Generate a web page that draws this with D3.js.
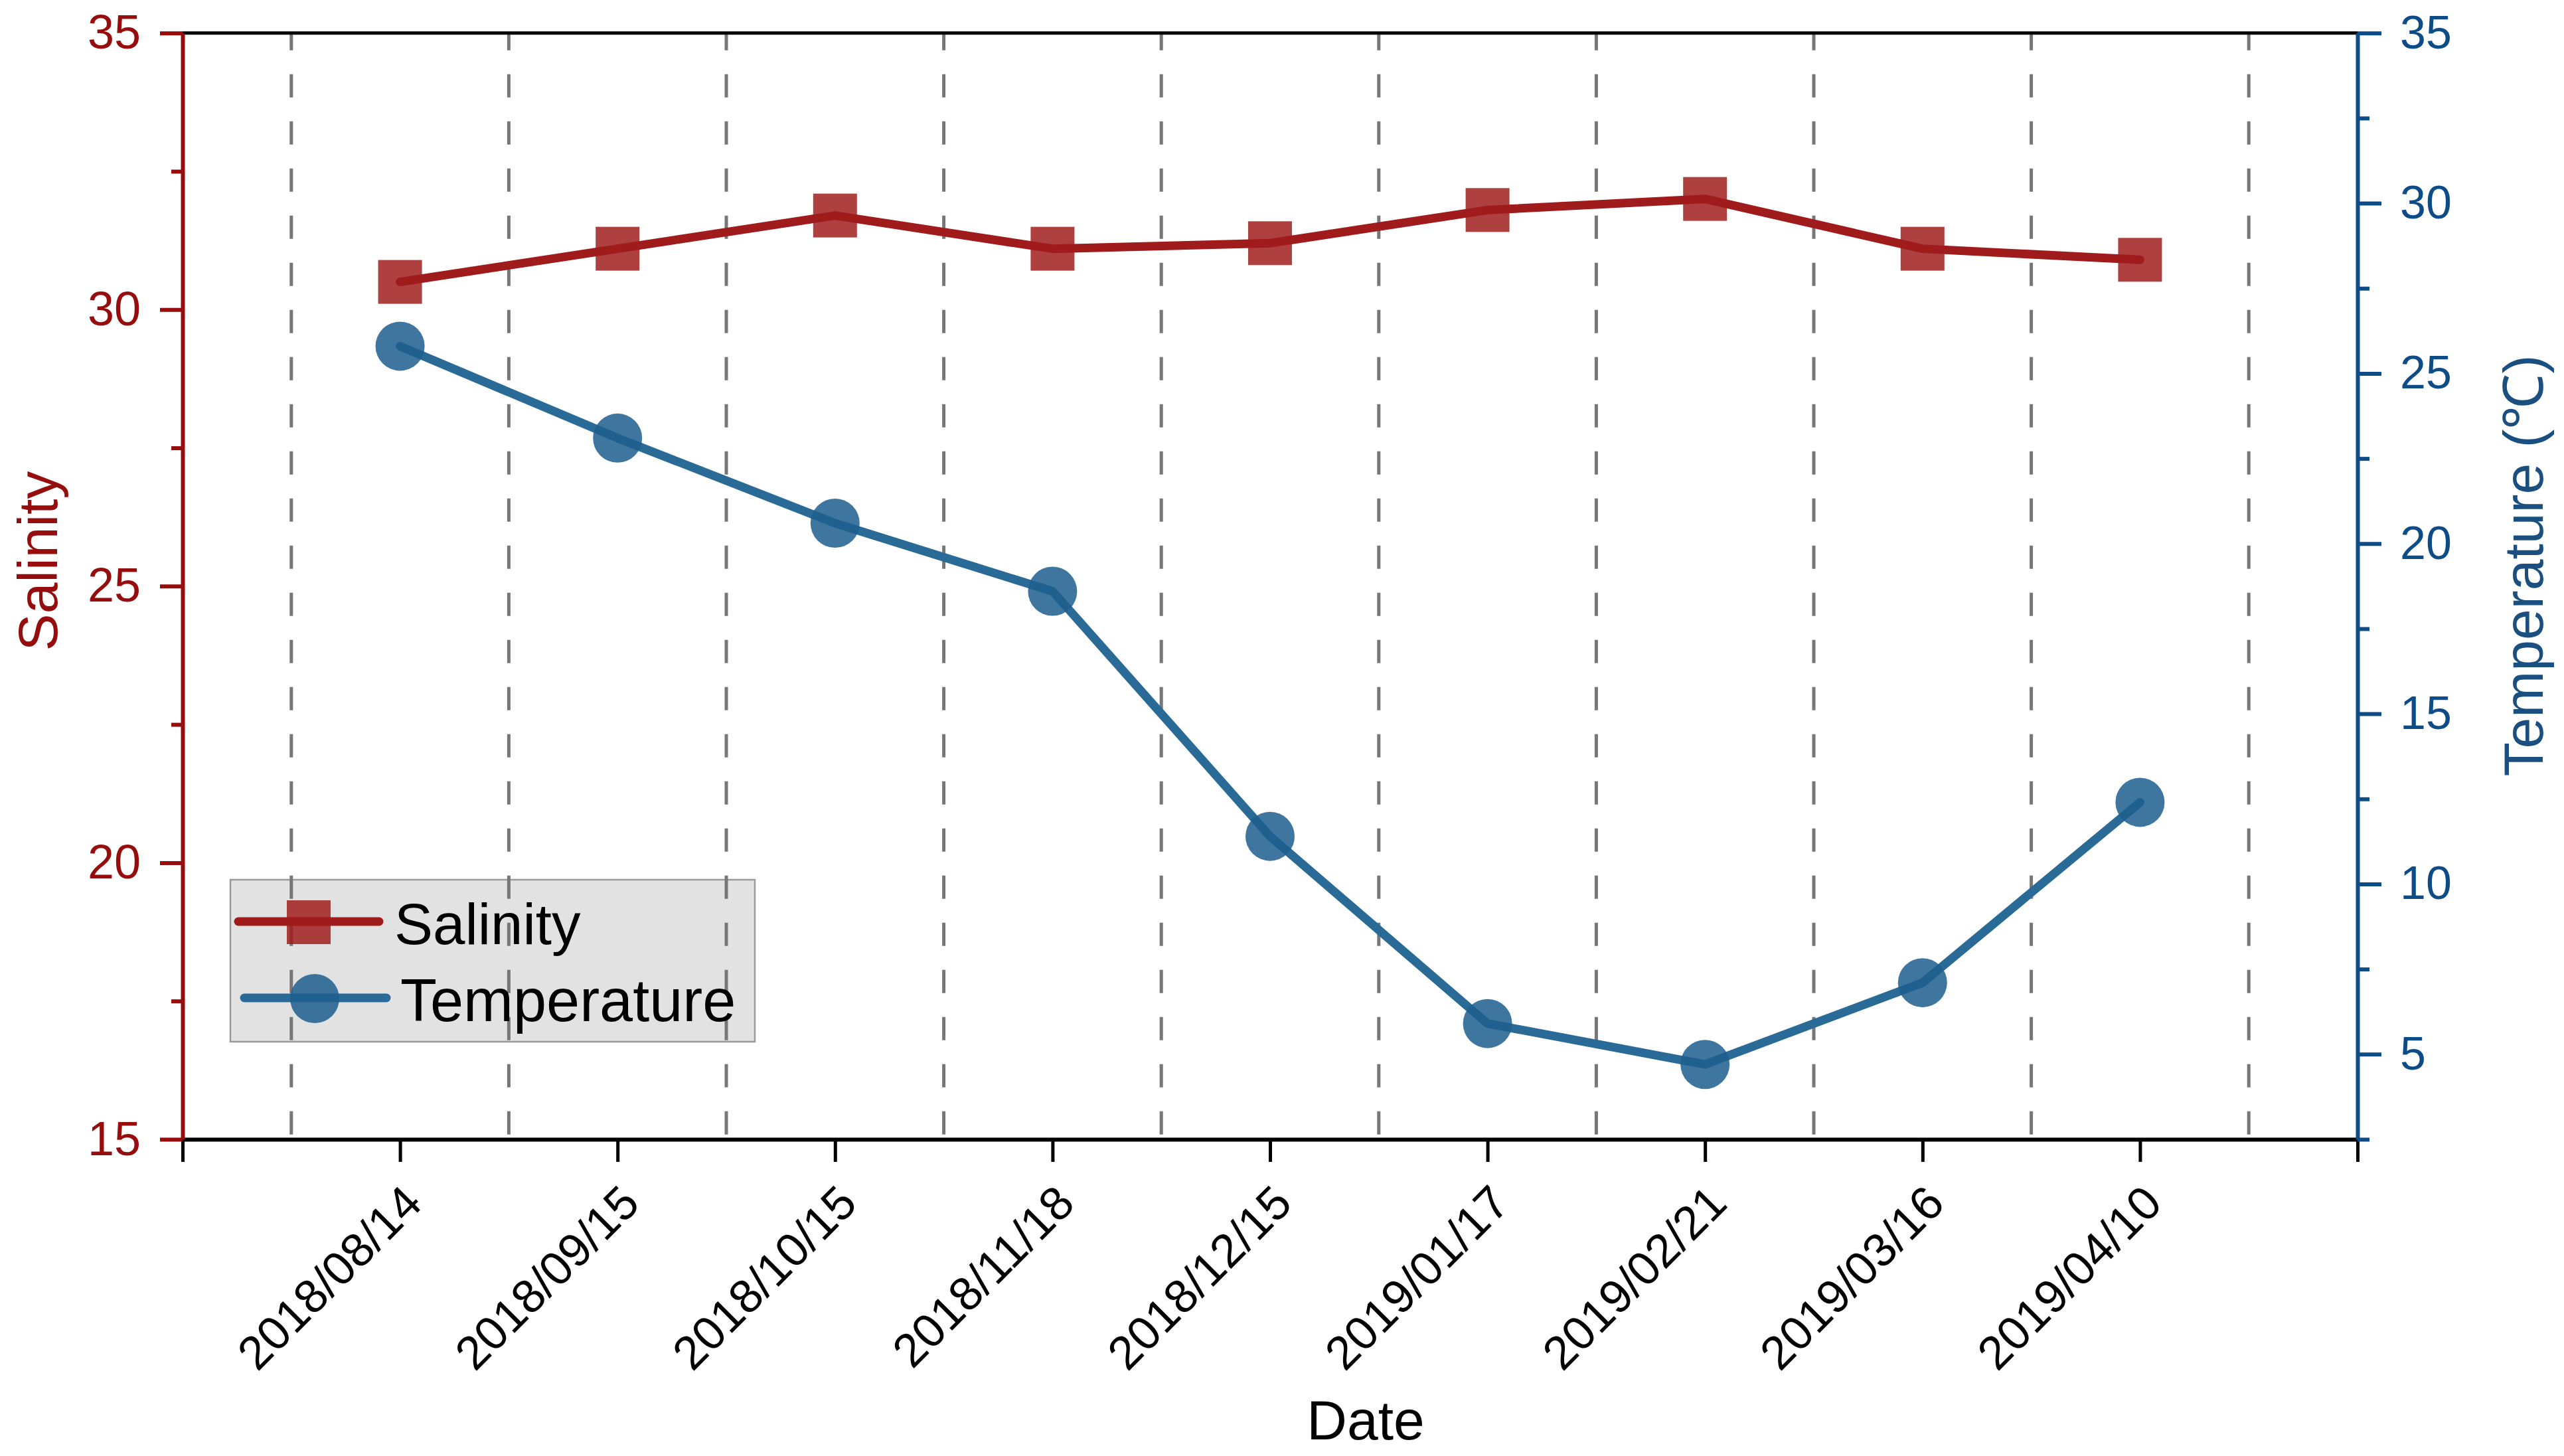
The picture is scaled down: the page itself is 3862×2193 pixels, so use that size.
<!DOCTYPE html>
<html>
<head>
<meta charset="utf-8">
<script src="https://cdn.jsdelivr.net/npm/d3@7"></script>
<style>
  html, body { margin: 0; padding: 0; background: #ffffff; }
  svg { display: block; }
</style>
</head>
<body>
<script>
// ---- data ----
const dates = ["2018/08/14","2018/09/15","2018/10/15","2018/11/18","2018/12/15","2019/01/17","2019/02/21","2019/03/16","2019/04/10"];
const salinity = [30.5, 31.1, 31.7, 31.1, 31.2, 31.8, 32.0, 31.1, 30.9];
const temperature = [25.8, 23.1, 20.6, 18.6, 11.4, 5.9, 4.7, 7.1, 12.4];
const salinityTicks = [15, 20, 25, 30, 35];
const salinityMinorTicks = [17.5, 22.5, 27.5, 32.5];
const temperatureTicks = [5, 10, 15, 20, 25, 30, 35];
const temperatureMinorTicks = [2.5, 7.5, 12.5, 17.5, 22.5, 27.5, 32.5];
const seriesNames = ["Salinity", "Temperature"];

// ---- layout ----
const W = 3862, H = 2193;
const L = 275, R = 3551, T = 49.7, B = 1716;
const FONT = "'Liberation Sans', Arial, Helvetica, sans-serif";
const RED_AX = "#950d0d", BLUE_AX = "#0d4c86";
const SAL_LINE = "#a01c1c", TEMP_LINE = "#2a6a96";
const SAL_MARK = "#a01c1c", TEMP_MARK = "#1d5e8e";

const svg = d3.select("body").append("svg")
  .attr("width", W).attr("height", H)
  .style("background", "#fff");

const x = d3.scaleLinear().domain([0, dates.length + 1]).range([L, R]);
const yS = d3.scaleLinear().domain([15, 35]).range([B, T]);
const yT = d3.scaleLinear().domain([2.5, 35]).range([B, T]);

// legend box (drawn under grid lines)
const legend = { x: 347, y: 1325, w: 790, h: 244 };
svg.append("rect")
  .attr("x", legend.x).attr("y", legend.y)
  .attr("width", legend.w).attr("height", legend.h)
  .attr("fill", "#e2e2e2").attr("stroke", "#9a9a9a").attr("stroke-width", 2.5);

// dashed vertical grid lines between categories
const gridPos = d3.range(0, dates.length + 1).map(i => i + 0.5);
svg.append("g").selectAll("line").data(gridPos).join("line")
  .attr("x1", d => x(d)).attr("x2", d => x(d))
  .attr("y1", T).attr("y2", B)
  .attr("stroke", "#777777").attr("stroke-width", 5)
  .attr("stroke-dasharray", "35 36").attr("stroke-dashoffset", 9);

// top frame line
svg.append("line")
  .attr("x1", x(0)).attr("x2", x(dates.length + 1))
  .attr("y1", T).attr("y2", T)
  .attr("stroke", "#000").attr("stroke-width", 5);

// bottom axis
const xAxis = d3.axisBottom(x)
  .tickValues(d3.range(0, dates.length + 2))
  .tickSize(34).tickSizeOuter(0)
  .tickFormat(i => (i >= 1 && i <= dates.length) ? dates[i - 1] : "");
const gx = svg.append("g").attr("transform", `translate(0,${B})`).call(xAxis);
gx.select(".domain").attr("stroke", "#000").attr("stroke-width", 6);
gx.selectAll(".tick line").attr("stroke", "#000").attr("stroke-width", 5);
gx.selectAll(".tick text")
  .attr("x", 0).attr("y", 0).attr("dy", 0)
  .attr("text-anchor", "end")
  .attr("transform", "translate(36,100) rotate(-45)")
  .attr("fill", "#000")
  .style("font-family", FONT).style("font-size", "71px");

// left axis (salinity)
const gl = svg.append("g").attr("transform", `translate(${L},0)`)
  .call(d3.axisLeft(yS).tickValues(salinityTicks).tickSize(34).tickSizeOuter(0).tickPadding(29).tickFormat(d3.format("d")));
gl.select(".domain").attr("stroke", RED_AX).attr("stroke-width", 6);
gl.selectAll(".tick line").attr("stroke", RED_AX).attr("stroke-width", 6);
gl.selectAll(".tick text").attr("fill", RED_AX)
  .style("font-family", "'Liberation Sans Narrow', 'Arial Narrow', " + FONT)
  .style("font-size", "72px");
const glm = svg.append("g").attr("transform", `translate(${L},0)`)
  .call(d3.axisLeft(yS).tickValues(salinityMinorTicks).tickSize(17).tickSizeOuter(0).tickFormat(""));
glm.select(".domain").remove();
glm.selectAll(".tick line").attr("stroke", RED_AX).attr("stroke-width", 6);

// right axis (temperature)
const gr = svg.append("g").attr("transform", `translate(${R},0)`)
  .call(d3.axisRight(yT).tickValues(temperatureTicks).tickSize(36).tickSizeOuter(0).tickPadding(28).tickFormat(d3.format("d")));
gr.select(".domain").attr("stroke", BLUE_AX).attr("stroke-width", 6);
gr.selectAll(".tick line").attr("stroke", BLUE_AX).attr("stroke-width", 6);
gr.selectAll(".tick text").attr("fill", BLUE_AX)
  .style("font-family", FONT).style("font-size", "70px");
const grm = svg.append("g").attr("transform", `translate(${R},0)`)
  .call(d3.axisRight(yT).tickValues(temperatureMinorTicks).tickSize(18).tickSizeOuter(0).tickFormat(""));
grm.select(".domain").remove();
grm.selectAll(".tick line").attr("stroke", BLUE_AX).attr("stroke-width", 6);

// axis titles
svg.append("text")
  .attr("transform", `translate(86,845) rotate(-90)`)
  .attr("text-anchor", "middle")
  .attr("fill", RED_AX)
  .style("font-family", FONT).style("font-size", "84px")
  .text("Salinity");
svg.append("text")
  .attr("transform", `translate(3830,852) rotate(-90)`)
  .attr("text-anchor", "middle")
  .attr("fill", "#1a4f80")
  .style("font-family", FONT).style("font-size", "84px")
  .text("Temperature (℃)");
svg.append("text")
  .attr("x", 2057).attr("y", 2168)
  .attr("text-anchor", "middle")
  .attr("fill", "#000")
  .style("font-family", FONT).style("font-size", "84px")
  .text("Date");

// series
const salLine = d3.line().x((d, i) => x(i + 1)).y(d => yS(d));
const tempLine = d3.line().x((d, i) => x(i + 1)).y(d => yT(d));

svg.append("path").datum(salinity)
  .attr("d", salLine).attr("fill", "none")
  .attr("stroke", SAL_LINE).attr("stroke-width", 13).attr("stroke-linejoin", "round").attr("stroke-linecap", "round");
svg.append("path").datum(temperature)
  .attr("d", tempLine).attr("fill", "none")
  .attr("stroke", TEMP_LINE).attr("stroke-width", 13).attr("stroke-linejoin", "round").attr("stroke-linecap", "round");

const SQ = 66, CR = 37;
svg.append("g").selectAll("rect").data(salinity).join("rect")
  .attr("x", (d, i) => x(i + 1) - SQ / 2).attr("y", d => yS(d) - SQ / 2)
  .attr("width", SQ).attr("height", SQ)
  .attr("fill", SAL_MARK).attr("fill-opacity", 0.84);
svg.append("g").selectAll("circle").data(temperature).join("circle")
  .attr("cx", (d, i) => x(i + 1)).attr("cy", d => yT(d)).attr("r", CR)
  .attr("fill", TEMP_MARK).attr("fill-opacity", 0.85);

// legend items
const lg = svg.append("g");
lg.append("line").attr("x1", 359).attr("x2", 571).attr("y1", 1388).attr("y2", 1388)
  .attr("stroke", SAL_LINE).attr("stroke-width", 13).attr("stroke-linecap", "round");
lg.append("rect").attr("x", 465 - SQ / 2).attr("y", 1389 - SQ / 2).attr("width", SQ).attr("height", SQ)
  .attr("fill", SAL_MARK).attr("fill-opacity", 0.84);
lg.append("text").attr("x", 594).attr("y", 1422)
  .attr("fill", "#000").style("font-family", FONT).style("font-size", "87px")
  .text(seriesNames[0]);
lg.append("line").attr("x1", 368).attr("x2", 582).attr("y1", 1503).attr("y2", 1503)
  .attr("stroke", TEMP_LINE).attr("stroke-width", 13).attr("stroke-linecap", "round");
lg.append("circle").attr("cx", 474).attr("cy", 1504).attr("r", CR)
  .attr("fill", TEMP_MARK).attr("fill-opacity", 0.85);
lg.append("text").attr("x", 603).attr("y", 1538)
  .attr("fill", "#000").style("font-family", FONT).style("font-size", "90px")
  .text(seriesNames[1]);
</script>
</body>
</html>
